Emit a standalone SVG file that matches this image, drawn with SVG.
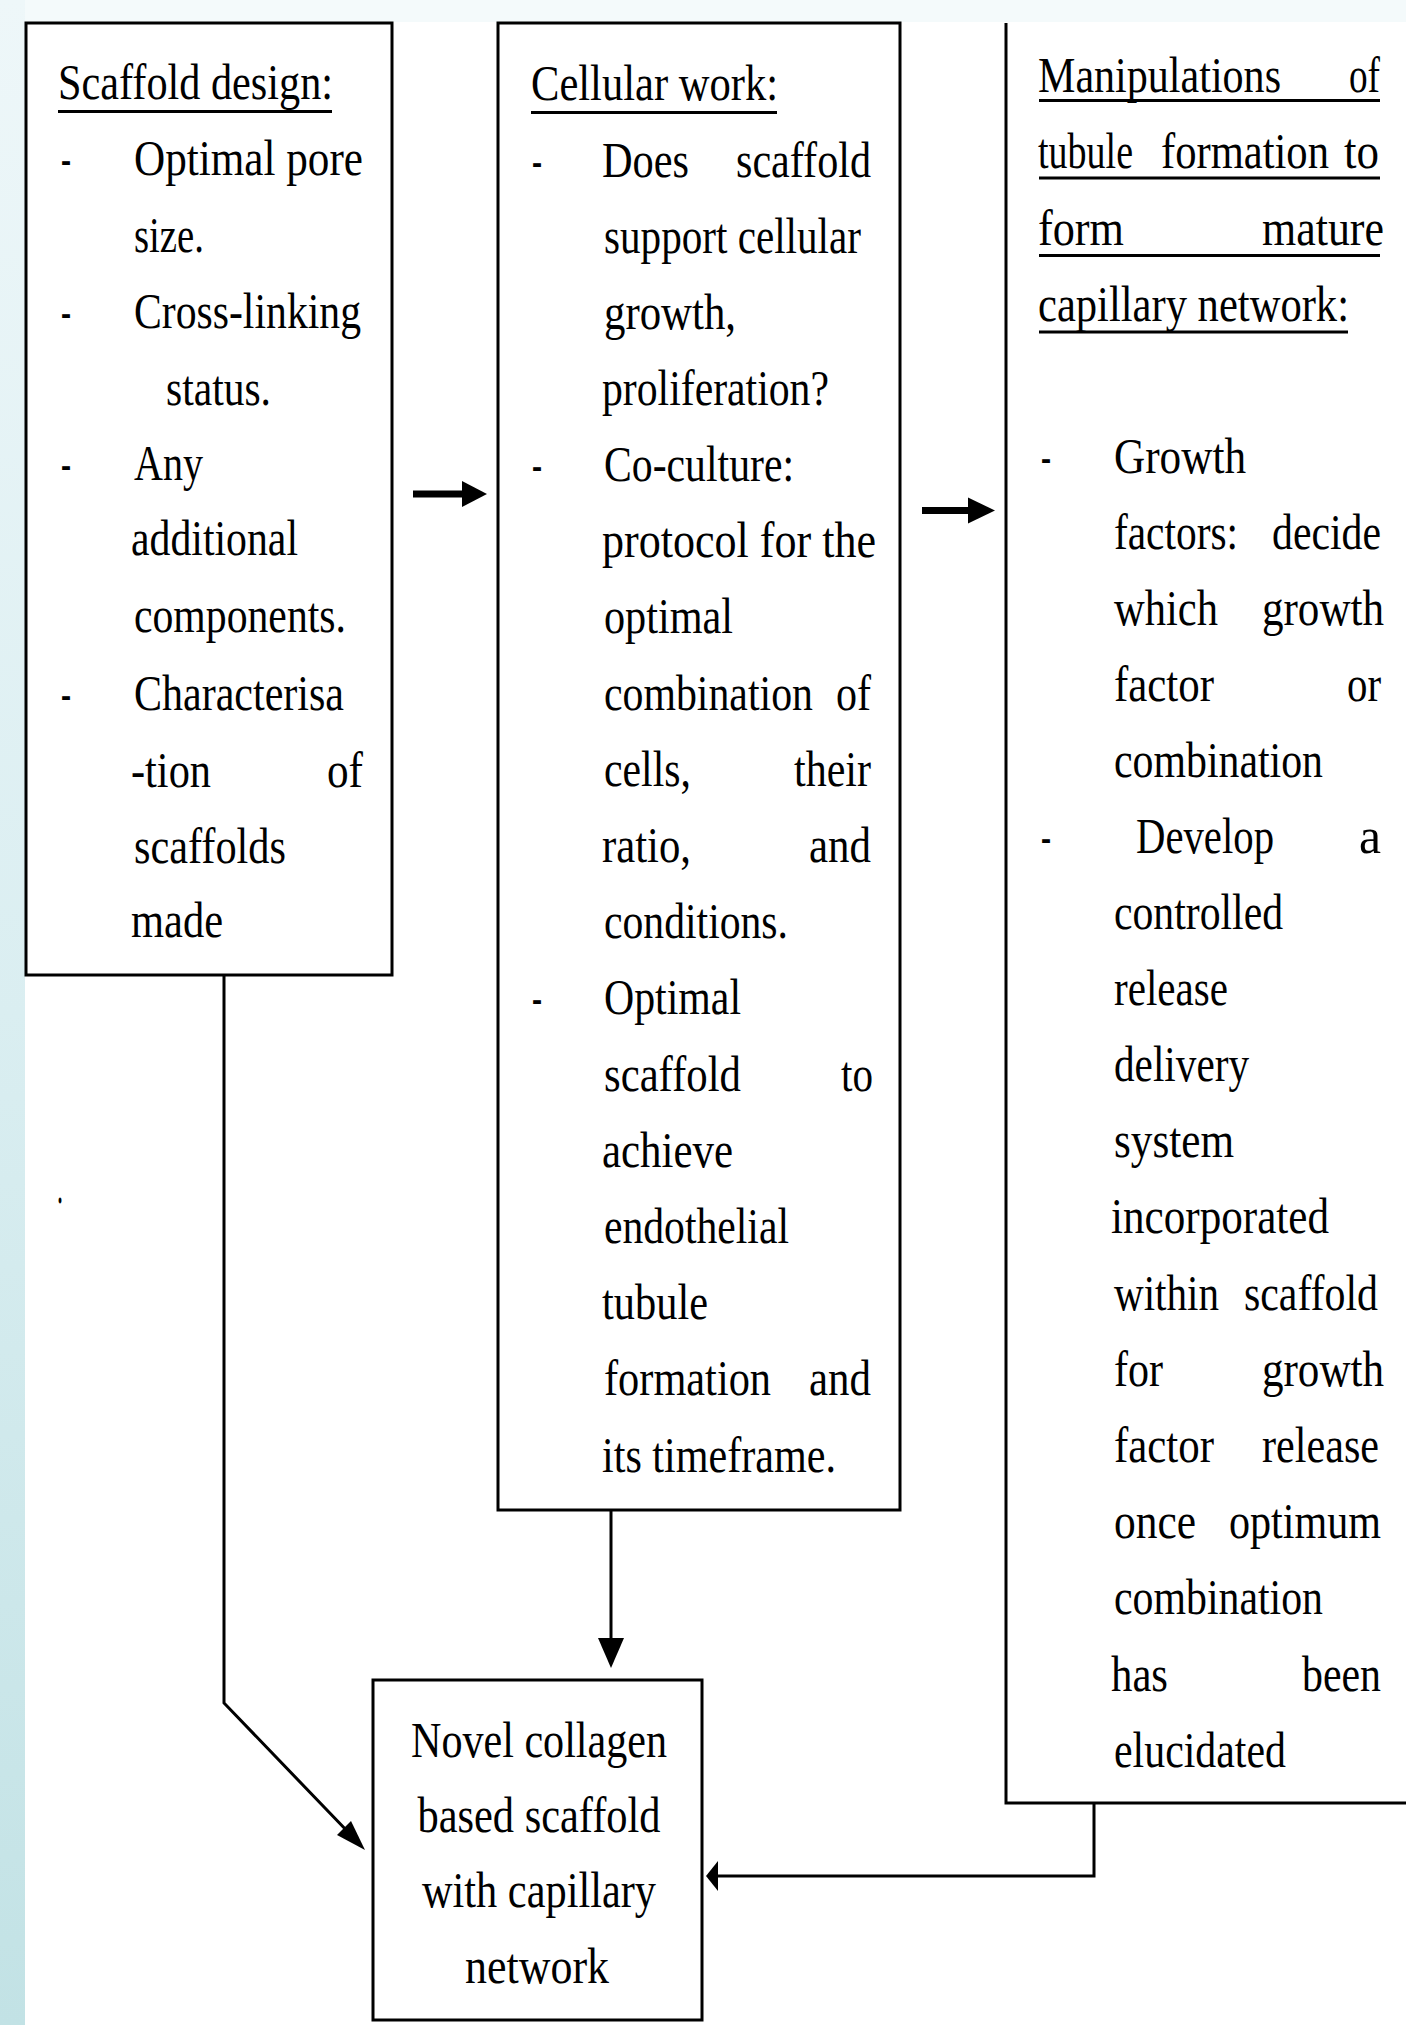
<svg xmlns="http://www.w3.org/2000/svg" width="1406" height="2025" viewBox="0 0 1406 2025">
<defs>
<linearGradient id="strip" x1="0" y1="0" x2="0" y2="1">
<stop offset="0" stop-color="#eef7f9"/>
<stop offset="0.5" stop-color="#daeef1"/>
<stop offset="1" stop-color="#c2e2e5"/>
</linearGradient>
<style>
text{font-family:"Liberation Serif","Times New Roman",serif;font-size:50px;fill:#000}
.box{fill:#fff;stroke:#000;stroke-width:3}
.edge{fill:none;stroke:#000;stroke-width:3}
.ul{stroke:#000;stroke-width:3}
.head{fill:#000}
.mid{text-anchor:middle}
</style>
</defs>
<rect x="0" y="0" width="1406" height="2025" fill="#fff"/>
<rect x="0" y="0" width="1406" height="22" fill="#f4fafb"/>
<rect x="0" y="0" width="25" height="2025" fill="url(#strip)"/>

<g id="node-scaffold-design">
<rect class="box" x="26" y="23" width="366" height="952"/>
<text x="58" y="99" textLength="275" lengthAdjust="spacingAndGlyphs">Scaffold design:</text>
<line class="ul" x1="58" y1="111.5" x2="332" y2="111.5"/>
<text x="61" y="175" textLength="10" lengthAdjust="spacingAndGlyphs">-</text>
<text x="134" y="175" textLength="229" lengthAdjust="spacingAndGlyphs">Optimal pore</text>
<text x="134" y="252" textLength="70" lengthAdjust="spacingAndGlyphs">size.</text>
<text x="61" y="328" textLength="10" lengthAdjust="spacingAndGlyphs">-</text>
<text x="134" y="328" textLength="227" lengthAdjust="spacingAndGlyphs">Cross-linking</text>
<text x="166" y="405" textLength="105" lengthAdjust="spacingAndGlyphs">status.</text>
<text x="61" y="480" textLength="10" lengthAdjust="spacingAndGlyphs">-</text>
<text x="134" y="480" textLength="69" lengthAdjust="spacingAndGlyphs">Any</text>
<text x="131" y="555" textLength="167" lengthAdjust="spacingAndGlyphs">additional</text>
<text x="134" y="632" textLength="212" lengthAdjust="spacingAndGlyphs">components.</text>
<text x="61" y="710" textLength="10" lengthAdjust="spacingAndGlyphs">-</text>
<text x="134" y="710" textLength="210" lengthAdjust="spacingAndGlyphs">Characterisa</text>
<text x="131" y="787" textLength="80" lengthAdjust="spacingAndGlyphs">-tion</text>
<text x="327" y="787" textLength="36" lengthAdjust="spacingAndGlyphs">of</text>
<text x="134" y="863" textLength="152" lengthAdjust="spacingAndGlyphs">scaffolds</text>
<text x="131" y="937" textLength="92" lengthAdjust="spacingAndGlyphs">made</text>
</g>

<g id="node-cellular-work">
<rect class="box" x="498" y="23" width="402" height="1487"/>
<text x="531" y="100" textLength="247" lengthAdjust="spacingAndGlyphs">Cellular work:</text>
<line class="ul" x1="531" y1="112.5" x2="777" y2="112.5"/>
<text x="532" y="177" textLength="10" lengthAdjust="spacingAndGlyphs">-</text>
<text x="602" y="177" textLength="87" lengthAdjust="spacingAndGlyphs">Does</text>
<text x="736" y="177" textLength="135" lengthAdjust="spacingAndGlyphs">scaffold</text>
<text x="604" y="253" textLength="257" lengthAdjust="spacingAndGlyphs">support cellular</text>
<text x="604" y="329" textLength="132" lengthAdjust="spacingAndGlyphs">growth,</text>
<text x="602" y="405" textLength="227" lengthAdjust="spacingAndGlyphs">proliferation?</text>
<text x="532" y="481" textLength="10" lengthAdjust="spacingAndGlyphs">-</text>
<text x="604" y="481" textLength="190" lengthAdjust="spacingAndGlyphs">Co-culture:</text>
<text x="602" y="557" textLength="274" lengthAdjust="spacingAndGlyphs">protocol for the</text>
<text x="604" y="633" textLength="129" lengthAdjust="spacingAndGlyphs">optimal</text>
<text transform="translate(604,710) scale(0.836,1)" x="0" y="0">combination</text>
<text x="836" y="710" textLength="35" lengthAdjust="spacingAndGlyphs">of</text>
<text x="604" y="786" textLength="87" lengthAdjust="spacingAndGlyphs">cells,</text>
<text x="794" y="786" textLength="77" lengthAdjust="spacingAndGlyphs">their</text>
<text x="602" y="862" textLength="89" lengthAdjust="spacingAndGlyphs">ratio,</text>
<text x="809" y="862" textLength="62" lengthAdjust="spacingAndGlyphs">and</text>
<text x="604" y="938" textLength="184" lengthAdjust="spacingAndGlyphs">conditions.</text>
<text x="532" y="1014" textLength="10" lengthAdjust="spacingAndGlyphs">-</text>
<text x="604" y="1014" textLength="137" lengthAdjust="spacingAndGlyphs">Optimal</text>
<text x="604" y="1091" textLength="137" lengthAdjust="spacingAndGlyphs">scaffold</text>
<text x="841" y="1091" textLength="32" lengthAdjust="spacingAndGlyphs">to</text>
<text x="602" y="1167" textLength="131" lengthAdjust="spacingAndGlyphs">achieve</text>
<text x="604" y="1243" textLength="185" lengthAdjust="spacingAndGlyphs">endothelial</text>
<text x="602" y="1319" textLength="106" lengthAdjust="spacingAndGlyphs">tubule</text>
<text x="604" y="1395" textLength="167" lengthAdjust="spacingAndGlyphs">formation</text>
<text x="809" y="1395" textLength="62" lengthAdjust="spacingAndGlyphs">and</text>
<text x="602" y="1472" textLength="234" lengthAdjust="spacingAndGlyphs">its timeframe.</text>
</g>

<g id="node-manipulations">
<path class="edge" d="M1406,1803 H1006 V23"/>
<text x="1038" y="92" textLength="243" lengthAdjust="spacingAndGlyphs">Manipulations</text>
<text x="1349" y="92" textLength="31" lengthAdjust="spacingAndGlyphs">of</text>
<line class="ul" x1="1039" y1="100.5" x2="1380" y2="100.5"/>
<text x="1038" y="168" textLength="95" lengthAdjust="spacingAndGlyphs">tubule</text>
<text transform="translate(1161,168) scale(0.852,1)" x="0" y="0">formation</text>
<text x="1344" y="168" textLength="35" lengthAdjust="spacingAndGlyphs">to</text>
<line class="ul" x1="1039" y1="178" x2="1380" y2="178"/>
<text x="1038" y="245" textLength="86" lengthAdjust="spacingAndGlyphs">form</text>
<text x="1262" y="245" textLength="122" lengthAdjust="spacingAndGlyphs">mature</text>
<line class="ul" x1="1039" y1="255.5" x2="1380" y2="255.5"/>
<text x="1038" y="321" textLength="311" lengthAdjust="spacingAndGlyphs">capillary network:</text>
<line class="ul" x1="1039" y1="332" x2="1348" y2="332"/>
<text x="1041" y="473" textLength="10" lengthAdjust="spacingAndGlyphs">-</text>
<text x="1114" y="473" textLength="132" lengthAdjust="spacingAndGlyphs">Growth</text>
<text x="1114" y="549" textLength="124" lengthAdjust="spacingAndGlyphs">factors:</text>
<text x="1272" y="549" textLength="109" lengthAdjust="spacingAndGlyphs">decide</text>
<text x="1114" y="625" textLength="104" lengthAdjust="spacingAndGlyphs">which</text>
<text x="1262" y="625" textLength="122" lengthAdjust="spacingAndGlyphs">growth</text>
<text x="1114" y="701" textLength="100" lengthAdjust="spacingAndGlyphs">factor</text>
<text x="1347" y="701" textLength="34" lengthAdjust="spacingAndGlyphs">or</text>
<text x="1114" y="777" textLength="209" lengthAdjust="spacingAndGlyphs">combination</text>
<text x="1041" y="853" textLength="10" lengthAdjust="spacingAndGlyphs">-</text>
<text x="1136" y="853" textLength="138" lengthAdjust="spacingAndGlyphs">Develop</text>
<text x="1359" y="853" textLength="22" lengthAdjust="spacingAndGlyphs">a</text>
<text x="1114" y="929" textLength="169" lengthAdjust="spacingAndGlyphs">controlled</text>
<text x="1114" y="1005" textLength="114" lengthAdjust="spacingAndGlyphs">release</text>
<text x="1114" y="1081" textLength="135" lengthAdjust="spacingAndGlyphs">delivery</text>
<text x="1114" y="1157" textLength="120" lengthAdjust="spacingAndGlyphs">system</text>
<text x="1111" y="1233" textLength="218" lengthAdjust="spacingAndGlyphs">incorporated</text>
<text x="1114" y="1310" textLength="105" lengthAdjust="spacingAndGlyphs">within</text>
<text x="1244" y="1310" textLength="134" lengthAdjust="spacingAndGlyphs">scaffold</text>
<text x="1114" y="1386" textLength="49" lengthAdjust="spacingAndGlyphs">for</text>
<text x="1262" y="1386" textLength="122" lengthAdjust="spacingAndGlyphs">growth</text>
<text x="1114" y="1462" textLength="100" lengthAdjust="spacingAndGlyphs">factor</text>
<text x="1262" y="1462" textLength="117" lengthAdjust="spacingAndGlyphs">release</text>
<text x="1114" y="1538" textLength="82" lengthAdjust="spacingAndGlyphs">once</text>
<text x="1229" y="1538" textLength="152" lengthAdjust="spacingAndGlyphs">optimum</text>
<text x="1114" y="1614" textLength="209" lengthAdjust="spacingAndGlyphs">combination</text>
<text x="1111" y="1691" textLength="57" lengthAdjust="spacingAndGlyphs">has</text>
<text x="1302" y="1691" textLength="79" lengthAdjust="spacingAndGlyphs">been</text>
<text x="1114" y="1767" textLength="172" lengthAdjust="spacingAndGlyphs">elucidated</text>
</g>

<g id="node-novel-scaffold">
<rect class="box" x="373" y="1680" width="329" height="340"/>
<text class="mid" x="539" y="1757" textLength="256" lengthAdjust="spacingAndGlyphs">Novel collagen</text>
<text class="mid" x="539" y="1832" textLength="243" lengthAdjust="spacingAndGlyphs">based scaffold</text>
<text class="mid" x="539" y="1907" textLength="234" lengthAdjust="spacingAndGlyphs">with capillary</text>
<text class="mid" x="537" y="1983" textLength="144" lengthAdjust="spacingAndGlyphs">network</text>
</g>

<text x="57" y="1203" textLength="6" lengthAdjust="spacingAndGlyphs">.</text>

<g id="connectors">
<rect x="413" y="490.5" width="52" height="7" fill="#000"/>
<polygon class="head" points="487,494 462,481 462,507"/>
<rect x="922" y="507" width="50" height="7" fill="#000"/>
<polygon class="head" points="995,510.5 968,497.5 968,523.5"/>
<polyline class="edge" points="224,975 224,1703 350,1834" stroke-width="2.5"/>
<polygon class="head" points="365,1850 337,1835 351,1821"/>
<line class="edge" x1="611" y1="1510" x2="611" y2="1645"/>
<polygon class="head" points="611,1668 598,1638 624,1638"/>
<polyline class="edge" points="1094,1803 1094,1876 716,1876"/>
<polygon class="head" points="706,1876 718,1861 718,1891"/>
</g>
</svg>
